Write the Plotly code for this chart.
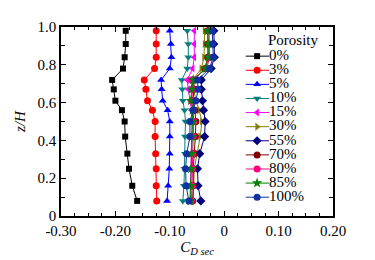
import plotly.graph_objects as go

z_over_h = [0.98, 0.91, 0.84, 0.78, 0.72, 0.67, 0.61, 0.56, 0.50, 0.42, 0.33, 0.25, 0.16, 0.08]

porosity_labels = ["0%", "3%", "5%", "10%", "15%", "30%", "55%", "70%", "80%", "85%", "100%"]

cd_0 = [-0.181, -0.181, -0.183, -0.186, -0.206, -0.203, -0.200, -0.188, -0.183, -0.182, -0.178, -0.175, -0.169, -0.160]
cd_3 = [-0.125, -0.125, -0.125, -0.128, -0.147, -0.144, -0.141, -0.132, -0.127, -0.127, -0.126, -0.125, -0.125, -0.124]
cd_5 = [-0.100, -0.098, -0.097, -0.100, -0.116, -0.115, -0.113, -0.104, -0.100, -0.100, -0.100, -0.101, -0.103, -0.105]
cd_10 = [-0.068, -0.066, -0.066, -0.068, -0.078, -0.077, -0.076, -0.073, -0.071, -0.072, -0.072, -0.073, -0.074, -0.076]
cd_15 = [-0.055, -0.055, -0.055, -0.058, -0.068, -0.066, -0.062, -0.060, -0.059, -0.060, -0.060, -0.062, -0.063, -0.063]
cd_30 = [-0.036, -0.036, -0.037, -0.042, -0.058, -0.056, -0.052, -0.046, -0.041, -0.044, -0.050, -0.055, -0.056, -0.057]
cd_55 = [-0.019, -0.019, -0.018, -0.024, -0.042, -0.042, -0.040, -0.038, -0.035, -0.036, -0.045, -0.049, -0.048, -0.043]
cd_70 = [-0.030, -0.030, -0.030, -0.035, -0.056, -0.055, -0.058, -0.054, -0.052, -0.053, -0.055, -0.057, -0.057, -0.058]
cd_80 = [-0.028, -0.027, -0.027, -0.032, -0.060, -0.058, -0.060, -0.057, -0.056, -0.057, -0.058, -0.059, -0.059, -0.060]
cd_85 = [-0.030, -0.029, -0.029, -0.034, -0.057, -0.060, -0.061, -0.058, -0.058, -0.059, -0.060, -0.061, -0.062, -0.062]
cd_100 = [-0.022, -0.021, -0.020, -0.027, -0.049, -0.048, -0.052, -0.057, -0.063, -0.063, -0.069, -0.071, -0.070, -0.065]

x_tick_vals = [-0.30, -0.20, -0.10, 0.0, 0.10, 0.20]
x_tick_text = ["-0.30", "-0.20", "-0.10", "0", "0.10", "0.20"]
y_tick_vals = [0.0, 0.2, 0.4, 0.6, 0.8, 1.0]
y_tick_text = ["0", "0.2", "0.4", "0.6", "0.8", "1.0"]

series = [cd_0, cd_3, cd_5, cd_10, cd_15, cd_30, cd_55, cd_70, cd_80, cd_85, cd_100]
colors = ["#000000", "#FF0000", "#0000FF", "#008080", "#FF00FF", "#808000",
          "#000080", "#800000", "#FF0080", "#008000", "#1030A0"]
symbols = ["square", "circle", "triangle-up", "triangle-down", "triangle-left",
           "triangle-right", "diamond", "circle", "circle", "star", "circle"]
sizes = [6, 7, 7, 7, 7, 7, 7, 7, 7, 8, 7]

FONT = "Liberation Serif"

fig = go.Figure()

for vals, name, col, sym, sz in zip(series, porosity_labels, colors, symbols, sizes):
    fig.add_trace(go.Scatter(
        x=vals, y=z_over_h, mode="lines+markers", name=name,
        line=dict(color=col, width=1),
        marker=dict(symbol=sym, size=sz, color=col, line=dict(width=0)),
        showlegend=False, xaxis="x", yaxis="y",
    ))

# Custom compact legend on hidden helper axes: x2 in plot-width fractions, y2 in item index
LEG_X0, LEG_XM, LEG_X1 = 0.679, 0.721, 0.765
for i, (name, col, sym, sz) in enumerate(zip(porosity_labels, colors, symbols, sizes)):
    fig.add_trace(go.Scatter(
        x=[LEG_X0, LEG_X1], y=[i, i], mode="lines", line=dict(color=col, width=1),
        showlegend=False, xaxis="x2", yaxis="y2", hoverinfo="skip", cliponaxis=False,
    ))
    fig.add_trace(go.Scatter(
        x=[LEG_XM], y=[i], mode="markers",
        marker=dict(symbol=sym, size=sz, color=col, line=dict(width=0)),
        showlegend=False, xaxis="x2", yaxis="y2", hoverinfo="skip", cliponaxis=False,
    ))
    fig.add_trace(go.Scatter(
        x=[LEG_X1], y=[i], mode="text", text=[name], textposition="middle right",
        textfont=dict(family=FONT, size=15, color="black"),
        showlegend=False, xaxis="x2", yaxis="y2", hoverinfo="skip", cliponaxis=False,
    ))

fig.add_annotation(
    text="Porosity", x=0.855, y=0.93, xref="paper", yref="paper", showarrow=False,
    font=dict(family=FONT, size=15, color="black"), xanchor="center", yanchor="middle",
)

axis_common = dict(
    showline=True, linecolor="black", linewidth=1.5, mirror="ticks",
    ticks="inside", ticklen=5, tickwidth=1, tickcolor="black",
    showgrid=False, zeroline=False,
    tickfont=dict(family=FONT, size=15, color="black"),
)

# the page body adds an 8 px offset, so the figure is 8 px smaller and margins compensate
fig.update_layout(
    width=367, height=252,
    margin=dict(l=51, r=42, t=11, b=40),
    paper_bgcolor="white", plot_bgcolor="rgba(0,0,0,0)",
    xaxis=dict(
        range=[-0.30, 0.20], tickmode="array", tickvals=x_tick_vals, ticktext=x_tick_text,
        minor=dict(dtick=0.025, tick0=0, ticks="inside", ticklen=3, tickcolor="black", showgrid=False),
        title=dict(text="<i>C</i><sub><i>D sec</i></sub>", font=dict(family=FONT, size=15, color="black"), standoff=0),
        **axis_common,
    ),
    yaxis=dict(
        range=[0, 1.0], tickmode="array", tickvals=y_tick_vals, ticktext=y_tick_text,
        minor=dict(dtick=0.1, tick0=0, ticks="inside", ticklen=4, tickcolor="black", showgrid=False),
        title=dict(text="<i>z/H</i>", font=dict(family=FONT, size=15, color="black"), standoff=8),
        **axis_common,
    ),
    xaxis2=dict(domain=[0, 1], range=[0, 1], visible=False, anchor="y2"),
    yaxis2=dict(domain=[0, 1], range=[11.333, -2.067], visible=False, anchor="x2"),
    showlegend=False,
)

fig.write_html("out.html")
